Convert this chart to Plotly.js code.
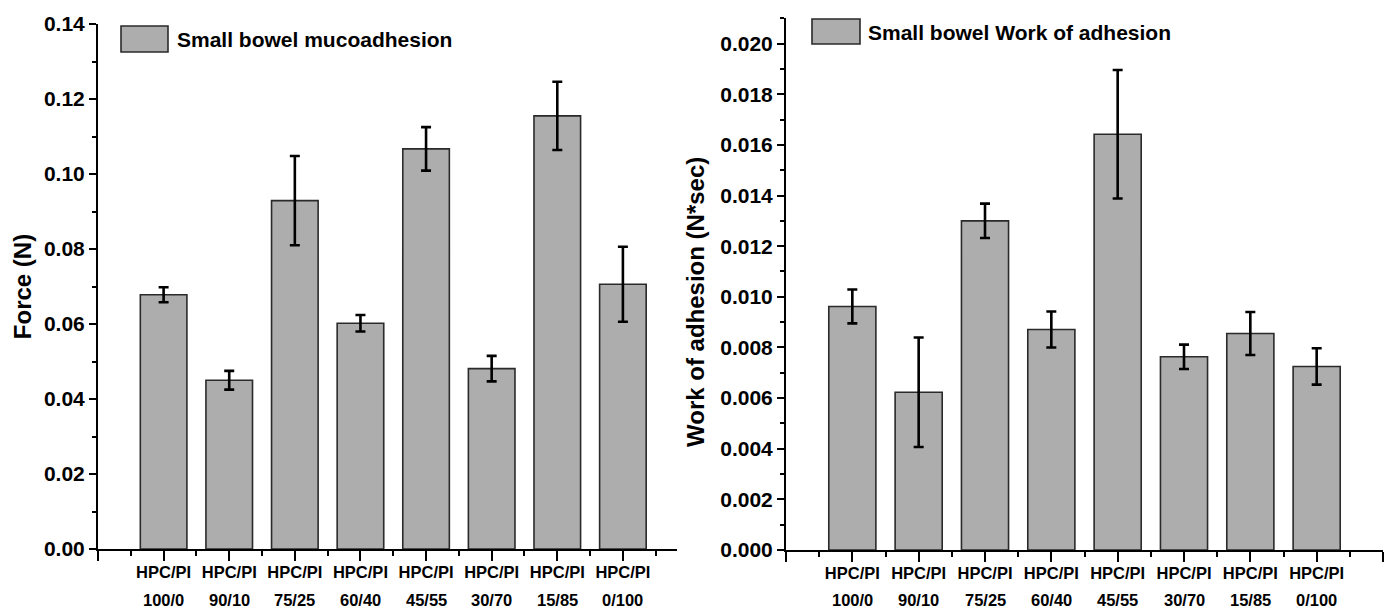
<!DOCTYPE html>
<html>
<head>
<meta charset="utf-8">
<script src="https://cdn.plot.ly/plotly-3.0.1.min.js"></script>
<style>
html,body{margin:0;padding:0;background:#fff;}
#chart{width:1392px;height:612px;}
</style>
</head>
<body>
<div id="chart"></div>
<script>
// ---- data ----
const categories = ['100/0', '90/10', '75/25', '60/40', '45/55', '30/70', '15/85', '0/100'];
const categoryPrefix = 'HPC/PI';
const forceName = 'Small bowel mucoadhesion';
const forceValues = [0.0678, 0.0450, 0.0929, 0.0602, 0.1067, 0.0481, 0.1155, 0.0706];
const forceErrors = [0.0020, 0.0025, 0.0119, 0.0022, 0.0058, 0.0034, 0.0091, 0.0100];
const workName = 'Small bowel Work of adhesion';
const workValues = [0.00962, 0.00623, 0.01300, 0.00871, 0.01642, 0.00763, 0.00855, 0.00725];
const workErrors = [0.00067, 0.00216, 0.00068, 0.00071, 0.00254, 0.00048, 0.00085, 0.00072];
const forceAxisTitle = 'Force (N)';
const workAxisTitle = 'Work of adhesion (N*sec)';

// ---- styling ----
const xpos = categories.map((c, i) => i);
const barFill = '#adadad';
const barLine = '#2a2a2a';
const boldFont = {family: 'Liberation Sans, Arial, sans-serif', weight: 'bold', color: '#000'};

function barTrace(vals, errs, name, xa, ya) {
  return {
    type: 'bar', x: xpos, y: vals, name: name, xaxis: xa, yaxis: ya,
    width: 0.71, showlegend: false,
    marker: {color: barFill, line: {color: barLine, width: 1.6}},
    error_y: {type: 'data', array: errs, visible: true, color: '#000', thickness: 2.6, width: 5}
  };
}

const traces = [
  barTrace(forceValues, forceErrors, forceName, 'x', 'y'),
  barTrace(workValues, workErrors, workName, 'x2', 'y2')
];

function xAxis(domain, range, anchor, lastTick) {
  const tv = [-1].concat(xpos);
  if (lastTick !== null) tv.push(lastTick);
  const tt = tv.map(v => (v >= 0 && v < categories.length) ? categoryPrefix : '');
  const minorVals = [];
  for (let v = -0.5; v < range[1]; v += 1) minorVals.push(v);
  return {
    domain: domain, range: range, anchor: anchor, type: 'linear',
    showgrid: false, zeroline: false, showline: true, linecolor: '#000', linewidth: 2,
    ticks: 'outside', ticklen: 10, tickwidth: 2, tickcolor: '#000',
    tickmode: 'array', tickvals: tv, ticktext: tt,
    ticklabelstandoff: -3,
    minor: {tickmode: 'array', tickvals: minorVals, ticks: 'outside', ticklen: 5, tickwidth: 2, tickcolor: '#000'},
    tickfont: Object.assign({size: 16.5}, boldFont),
    fixedrange: true
  };
}

function yAxis(domain, range, dtick, fmt, anchor, title, standoff) {
  return {
    domain: domain, range: range, anchor: anchor,
    showgrid: false, zeroline: false, showline: true, linecolor: '#000', linewidth: 2,
    ticks: 'outside', ticklen: 7, tickwidth: 2, tickcolor: '#000',
    tick0: 0, dtick: dtick, tickformat: fmt,
    minor: {dtick: dtick / 2, ticks: 'outside', ticklen: 4, tickwidth: 2, tickcolor: '#000'},
    tickfont: Object.assign({size: 21}, boldFont),
    title: {text: title, font: Object.assign({size: 24}, boldFont), standoff: standoff},
    fixedrange: true
  };
}

// ratio labels (second line of each category label)
const annotations = [];
categories.forEach((c, i) => {
  ['x', 'x2'].forEach(xr => {
    annotations.push({x: i, xref: xr, y: 0.019, yref: 'paper', text: c, showarrow: false,
      xanchor: 'center', yanchor: 'middle', font: Object.assign({size: 16.5}, boldFont)});
  });
});
// legend labels
annotations.push({x: 175 / 1392, xref: 'paper', y: 1 - 39 / 612, yref: 'paper', text: forceName,
  showarrow: false, xanchor: 'left', yanchor: 'middle', font: Object.assign({size: 21}, boldFont)});
annotations.push({x: 866 / 1392, xref: 'paper', y: 1 - 32 / 612, yref: 'paper', text: workName,
  showarrow: false, xanchor: 'left', yanchor: 'middle', font: Object.assign({size: 21}, boldFont)});
// right y-axis title (placed slightly below the axis centre, as in the original)
annotations.push({x: 695 / 1392, xref: 'paper', y: 1 - 302 / 612, yref: 'paper', text: workAxisTitle,
  textangle: -90, showarrow: false, xanchor: 'center', yanchor: 'middle', font: Object.assign({size: 24}, boldFont)});

const shapes = [
  {type: 'rect', xref: 'paper', yref: 'paper', x0: 121 / 1392, x1: 168 / 1392, y0: 1 - 52 / 612, y1: 1 - 26 / 612,
   fillcolor: barFill, line: {color: barLine, width: 1.6}},
  {type: 'rect', xref: 'paper', yref: 'paper', x0: 812 / 1392, x1: 860 / 1392, y0: 1 - 44 / 612, y1: 1 - 19 / 612,
   fillcolor: barFill, line: {color: barLine, width: 1.6}}
];

const layout = {
  width: 1392, height: 612,
  margin: {l: 0, r: 0, t: 0, b: 0},
  paper_bgcolor: '#fff', plot_bgcolor: '#fff',
  showlegend: false,
  xaxis: xAxis([98 / 1392, 676.7 / 1392], [-1, 7.82], 'y', null),
  yaxis: yAxis([1 - 549 / 612, 1 - 24 / 612], [0, 0.14], 0.02, '.2f', 'x', forceAxisTitle, 6),
  xaxis2: xAxis([786 / 1392, 1383 / 1392], [-1, 8], 'y2', 8),
  yaxis2: yAxis([1 - 550 / 612, 1 - 18.3 / 612], [0, 0.021], 0.002, '.3f', 'x2', '', 12),
  annotations: annotations,
  shapes: shapes
};

Plotly.newPlot('chart', traces, layout, {displayModeBar: false, staticPlot: true});
</script>
</body>
</html>
